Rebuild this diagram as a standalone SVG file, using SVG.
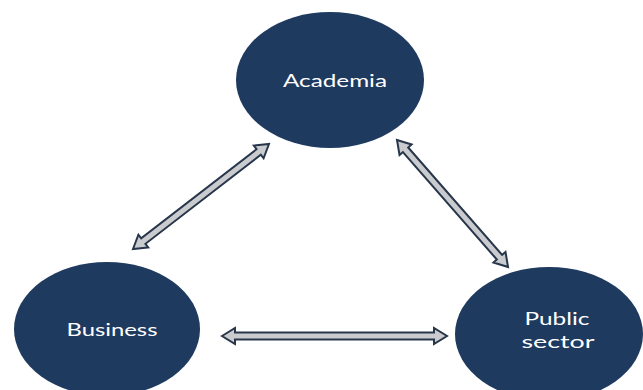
<svg xmlns="http://www.w3.org/2000/svg" width="643" height="390" viewBox="0 0 643 390">
  <style>
    .node { fill: #1f3a5f; }
    .label { fill: #ffffff; font-family: "Lato", "Open Sans", sans-serif; font-size: 18px; text-anchor: middle; }
    .arrow { fill: #c9cbcf; stroke: #27364a; stroke-width: 2; stroke-linejoin: miter; }
  </style>
  <rect width="643" height="390" fill="#ffffff"/>

  <g id="connectors">
    <!-- double-headed block arrows, drawn along +x then rotated into place -->
    <polygon class="arrow" transform="translate(133,249) rotate(-37.67)"
      points="0,0 13,-8 13,-3.5 158.8,-3.5 158.8,-8 171.8,0 158.8,8 158.8,3.5 13,3.5 13,8"/>
    <polygon class="arrow" transform="translate(397,140) rotate(48.84)"
      points="0,0 13,-8 13,-3.5 155.7,-3.5 155.7,-8 168.7,0 155.7,8 155.7,3.5 13,3.5 13,8"/>
    <polygon class="arrow" transform="translate(222,336)"
      points="0,0 13,-8 13,-3.5 212,-3.5 212,-8 225,0 212,8 212,3.5 13,3.5 13,8"/>
  </g>

  <g id="academia">
    <ellipse class="node" cx="330" cy="80" rx="94" ry="68"/>
    <text class="label" x="335" y="87" textLength="104" lengthAdjust="spacingAndGlyphs">Academia</text>
  </g>

  <g id="business">
    <ellipse class="node" cx="107" cy="329" rx="93" ry="67"/>
    <text class="label" x="112" y="336" textLength="91" lengthAdjust="spacingAndGlyphs">Business</text>
  </g>

  <g id="public-sector">
    <ellipse class="node" cx="549" cy="334" rx="94" ry="67"/>
    <text class="label" x="557" y="325" textLength="65" lengthAdjust="spacingAndGlyphs">Public</text>
    <text class="label" x="558" y="348" textLength="73" lengthAdjust="spacingAndGlyphs">sector</text>
  </g>
</svg>
